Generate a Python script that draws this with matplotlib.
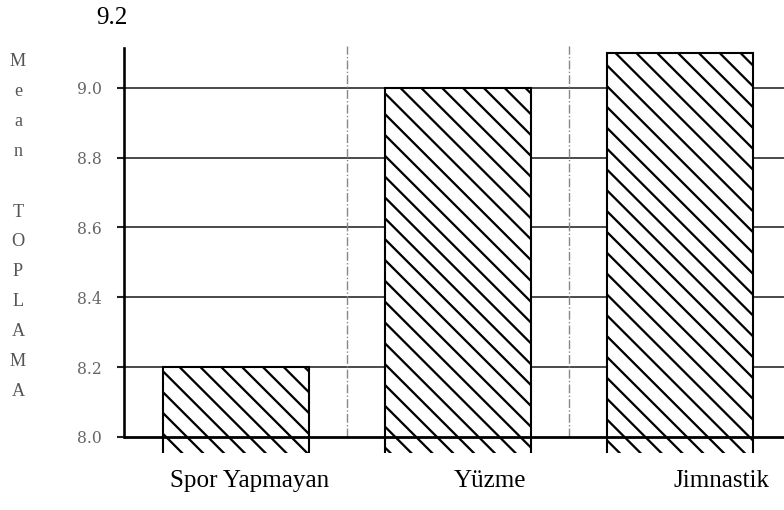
import matplotlib
matplotlib.use('Agg')
from matplotlib import pyplot as plt
import numpy as np

categories = ['Spor Yapmayan', 'Yüzme', 'Jimnastik']
means = [8.2, 9.0, 9.1]
label_x = [0.06, 1.145, 2.19]
yticks = [8.0, 8.2, 8.4, 8.6, 8.8, 9.0]
ylabel = 'Mean TOPLAMA'

plt.rcParams['hatch.linewidth'] = 1.3
plt.rcParams['hatch.color'] = 'black'

W, H, DPI = 784, 510, 125
fig = plt.figure(figsize=(W / DPI, H / DPI), dpi=DPI)
ax = fig.add_axes([124 / W, 1 - 453 / H, 660 / W, 435 / H])

x = np.arange(len(categories))
base = 7.9
ax.bar(x, [m - base for m in means], bottom=base, width=0.66,
       facecolor='white', edgecolor='black', hatch='\\\\', linewidth=1.2, zorder=2)

# horizontal rules behind the bars
for v in yticks[1:]:
    ax.axhline(v, color='#333333', lw=1.0, zorder=1)
ax.axhline(8.0, color='black', lw=1.6, zorder=3)

# dotted separators between the groups
ax.vlines(x[:-1] + 0.5, 8.0, 9.12, colors='#888888', linestyles='dashdot', lw=0.8, zorder=1)

ax.set_xlim(-0.506, 2.47)
ax.set_ylim(7.954, 9.2)
for s in ['top', 'right', 'bottom']:
    ax.spines[s].set_visible(False)
ax.spines['left'].set_bounds(8.0, 9.115)
ax.spines['left'].set_linewidth(1.5)
ax.set_xticks([])
ax.set_yticks(yticks)
ax.set_yticklabels(['%.1f' % v for v in yticks], family='DejaVu Serif',
                   fontsize=9, color='#666666')
ax.tick_params(axis='y', direction='out', length=4, width=1.2, pad=9, color='#222222')

ax.text(-0.018, 9.2, '9.2', transform=ax.get_yaxis_transform(), ha='center',
        va='center', family='Liberation Serif', fontsize=14.5)

for lx, name in zip(label_x, categories):
    ax.text(lx, -0.064, name, transform=ax.get_xaxis_transform(), ha='center',
            va='center', family='Liberation Serif', fontsize=14.5)

# stacked vertical axis title
for k, ch in enumerate(ylabel):
    fig.text(18 / W, 1 - (62 + 30 * k) / H, ch, ha='center', va='center',
             family='Liberation Serif', fontsize=10.5, color='#555555')

fig.savefig('out.png', dpi=DPI)
